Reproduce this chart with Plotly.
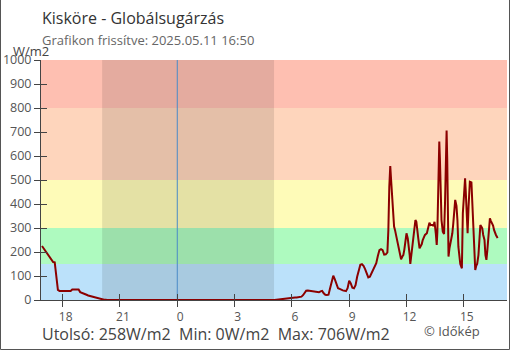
import plotly.graph_objects as go

title = "Kisköre - Globálsugárzás"
subtitle = "Grafikon frissítve: 2025.05.11 16:50"
unit = "W/m2"
credit = "© Időkép"

# previous day (evening) readings
prev_times = ["16:55", "17:00", "17:05", "17:10", "17:15", "17:20", "17:25", "17:30", "17:35", "17:40",
              "17:45", "17:50", "17:55", "18:00", "18:05", "18:10", "18:15", "18:20", "18:25", "18:30",
              "18:35", "18:40", "18:45", "18:50", "18:55", "19:00", "19:05", "19:10", "19:15", "19:20",
              "19:25", "19:30", "19:35", "19:40", "19:45", "19:50", "19:55", "20:00", "20:05", "20:10",
              "20:15", "20:20"]
prev_vals = [225, 215, 205, 194, 186, 174, 168, 158, 157, 83,
             42, 38, 38, 38, 38, 38, 38, 38, 38, 44,
             44, 44, 44, 44, 33, 31, 28, 25, 22, 19,
             17, 14, 12, 10, 8, 6, 4, 3, 2, 1,
             1, 0]

# current day readings
day_times = ["05:05", "05:10", "05:15", "05:20", "05:25", "05:30", "05:35", "05:40", "05:45", "05:50",
             "05:55", "06:00", "06:05", "06:10", "06:15", "06:20", "06:25", "06:30", "06:35", "06:40",
             "06:45", "06:50", "06:55", "07:00", "07:05", "07:10", "07:15", "07:20", "07:25", "07:30",
             "07:35", "07:40", "07:45", "07:50", "07:55", "08:00", "08:05", "08:10", "08:15", "08:20",
             "08:25", "08:30", "08:35", "08:40", "08:45", "08:50", "08:55", "09:00", "09:05", "09:10",
             "09:15", "09:20", "09:25", "09:30", "09:35", "09:40", "09:45", "09:50", "09:55", "10:00",
             "10:05", "10:10", "10:15", "10:20", "10:25", "10:30", "10:35", "10:40", "10:45", "10:50",
             "10:55", "11:00", "11:03", "11:06", "11:09", "11:11", "11:14", "11:18", "11:21", "11:24",
             "11:27", "11:31", "11:35", "11:40", "11:43", "11:47", "11:50", "11:53", "11:56", "12:00",
             "12:04", "12:07", "12:10", "12:12", "12:15", "12:18", "12:21", "12:25", "12:28", "12:31",
             "12:34", "12:37", "12:41", "12:44", "12:48", "12:51", "12:55", "12:58", "13:04", "13:09",
             "13:12", "13:16", "13:22", "13:25", "13:28", "13:32", "13:35", "13:37", "13:40", "13:43",
             "13:45", "13:47", "13:50", "13:54", "13:58", "14:01", "14:04", "14:06", "14:08", "14:11",
             "14:12", "14:15", "14:18", "14:21", "14:24", "14:27", "14:30", "14:33", "14:37", "14:40",
             "14:43", "14:46", "14:49", "14:54", "14:57", "15:01", "15:04", "15:06", "15:09", "15:12",
             "15:15", "15:19", "15:24", "15:27", "15:30", "15:33", "15:36", "15:39", "15:42", "15:46",
             "15:49", "15:52", "15:55", "15:58", "16:01", "16:05", "16:08", "16:11", "16:14", "16:17",
             "16:20", "16:22", "16:25", "16:29", "16:32", "16:35", "16:38", "16:41", "16:44", "16:46"]
day_vals = [0, 1, 2, 3, 3, 4, 5, 6, 7, 7,
            8, 9, 10, 10, 10, 11, 11, 14, 20, 32,
            39, 40, 39, 39, 37, 35, 35, 33, 32, 36,
            38, 28, 22, 21, 22, 49, 83, 101, 86, 65,
            49, 46, 42, 40, 39, 37, 49, 80, 69, 51,
            49, 62, 97, 125, 147, 149, 142, 129, 108, 94,
            97, 111, 125, 139, 153, 183, 208, 212, 208, 189,
            190, 198, 291, 472, 558, 514, 438, 354, 306, 291,
            271, 236, 215, 187, 170, 181, 187, 208, 250, 278,
            257, 229, 187, 150, 181, 215, 257, 299, 333, 326,
            299, 257, 215, 222, 233, 250, 261, 271, 278, 303,
            322, 312, 313, 308, 326, 278, 229, 285, 544, 660,
            586, 472, 333, 285, 275, 403, 600, 706, 583, 361,
            181, 215, 236, 257, 278, 319, 364, 417, 392, 333,
            222, 181, 150, 132, 361, 444, 507, 458, 361, 278,
            389, 493, 490, 389, 291, 187, 125, 142, 150, 187,
            250, 312, 306, 299, 271, 250, 187, 167, 208, 253,
            319, 340, 330, 319, 310, 292, 278, 271, 264, 258]

band_edges = [0, 150, 300, 500, 800, 1000]
band_colors = ["#bbe1fa", "#aefabf", "#fefbb8", "#fed5bc", "#febfb1"]
sunset = "20:04"   # previous day
sunrise = "05:04"
tick_hours = [-6, -3, 0, 3, 6, 9, 12, 15]
tick_labels = ["18", "21", "0", "3", "6", "9", "12", "15"]
y_ticks = [0, 100, 200, 300, 400, 500, 600, 700, 800, 900, 1000]


def hours(t, prev=False):
    h, m = map(int, t.split(":"))
    v = h + m / 60
    return v - 24 if prev else v


x = [hours(t, True) for t in prev_times] + [hours(t) for t in day_times]
y = prev_vals + day_vals

W, H = 510, 350
L, R, T, B = 41, 3, 60, 50
PW, PH = W - L - R, H - T - B


def px(xp):
    return (xp - L) / PW


def py(yp):
    return (H - B - yp) / PH


FONT = "Open Sans"
AX = "#444"

fig = go.Figure()
fig.add_trace(go.Scatter(x=x, y=y, mode="lines",
                         line=dict(color="#8b0000", width=2),
                         hoverinfo="skip", showlegend=False))
fig.add_trace(go.Scatter(x=[None], y=[None], xaxis="x2", yaxis="y2",
                         showlegend=False, hoverinfo="skip"))

shapes = []
for i, c in enumerate(band_colors):
    shapes.append(dict(type="rect", xref="paper", yref="y", x0=0, x1=1,
                       y0=band_edges[i], y1=band_edges[i + 1],
                       fillcolor=c, line=dict(width=0), layer="below"))
shapes.append(dict(type="rect", xref="x", yref="paper",
                   x0=hours(sunset, True), x1=hours(sunrise), y0=0, y1=1,
                   fillcolor="rgba(0,0,0,0.1)", line=dict(width=0), layer="below"))
shapes.append(dict(type="line", xref="x", yref="y", x0=0, x1=0, y0=0, y1=1000,
                   line=dict(color="#4a8ac8", width=1), layer="below"))
xl, xr, yb, yt = px(0.5), px(509.5), py(349.5), py(0)
shapes.append(dict(type="path", xref="paper", yref="paper",
                   path=f"M {xl},{yt} L {xl},{yb} L {xr},{yb} L {xr},{yt}",
                   line=dict(color="#555", width=1)))

stats = (f"Utolsó: {y[-1]}W/m2\u00a0\u00a0Min: {min(y)}W/m2\u00a0\u00a0Max: {max(y)}W/m2")

annotations = [
    dict(text=title, x=px(40), y=py(17.6), xref="paper", yref="paper",
         xanchor="left", yanchor="middle", showarrow=False,
         font=dict(family=FONT, size=16, color="#333")),
    dict(text=subtitle, x=px(40), y=py(40.4), xref="paper", yref="paper",
         xanchor="left", yanchor="middle", showarrow=False,
         font=dict(family=FONT, size=13, color="#666")),
    dict(text=unit, x=px(11), y=py(51), xref="paper", yref="paper",
         xanchor="left", yanchor="middle", showarrow=False,
         font=dict(family=FONT, size=13, color="#444")),
    dict(text=stats, x=px(39.5), y=py(334.2), xref="paper", yref="paper",
         xanchor="left", yanchor="middle", showarrow=False,
         font=dict(family=FONT, size=16, color="#444")),
    dict(text=credit, x=px(482), y=py(331.3), xref="paper", yref="paper",
         xanchor="right", yanchor="middle", showarrow=False,
         font=dict(family=FONT, size=13, color="#555")),
]

xrange = [-7.135, 17.262]
fig.update_layout(
    width=W, height=H,
    margin=dict(l=L, r=R, t=T, b=B, pad=0),
    paper_bgcolor="white", plot_bgcolor="rgba(0,0,0,0)",
    font=dict(family=FONT, color="#555"),
    shapes=shapes, annotations=annotations,
    xaxis=dict(range=xrange, tickmode="array", tickvals=tick_hours, ticktext=tick_labels,
               ticks="outside", ticklen=6, tickcolor=AX, showline=True, linecolor=AX,
               linewidth=1, showgrid=False, zeroline=False, ticklabelshift=3,
               tickfont=dict(family=FONT, size=12, color="#555"), fixedrange=True),
    xaxis2=dict(range=xrange, overlaying="x", anchor="y2", side="bottom",
                tickmode="array", tickvals=tick_hours, ticks="inside", ticklen=6,
                tickcolor=AX, showticklabels=False, showline=False, showgrid=False,
                zeroline=False, fixedrange=True),
    yaxis=dict(range=[0, 1000], tickmode="array", tickvals=y_ticks,
               ticks="outside", ticklen=6, tickcolor=AX, showline=True, linecolor=AX,
               linewidth=1, showgrid=False, zeroline=False,
               tickfont=dict(family=FONT, size=12.5, color="#555"), fixedrange=True),
    yaxis2=dict(range=[0, 1000], overlaying="y", anchor="x2", side="left",
                tickmode="array", tickvals=y_ticks, ticks="inside", ticklen=6,
                tickcolor=AX, showticklabels=False, showline=False, showgrid=False,
                zeroline=False, fixedrange=True),
)

fig.write_html("out.html")
